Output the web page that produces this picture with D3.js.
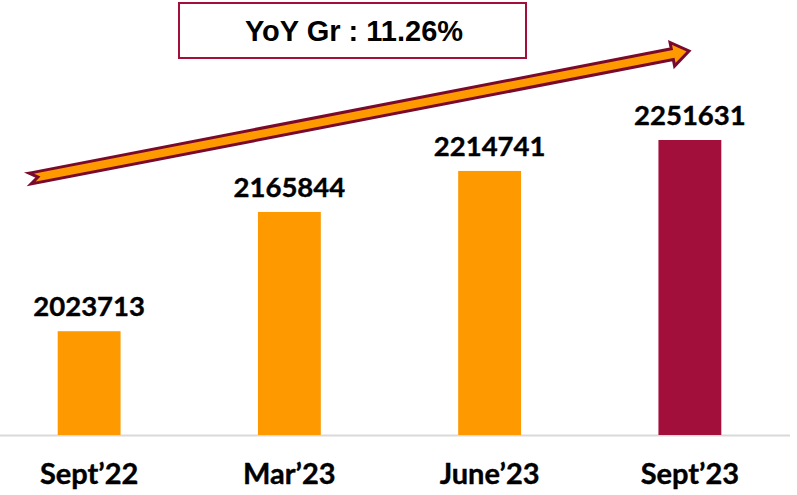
<!DOCTYPE html>
<html>
<head>
<meta charset="utf-8">
<script src="https://cdn.jsdelivr.net/npm/d3@7"></script>
<style>
  body { margin: 0; background: #fff; }
  svg { display: block; }
</style>
</head>
<body>
<div id="chart"></div>
<script>
// data
const categories = ["Sept\u201922", "Mar\u201923", "June\u201923", "Sept\u201923"];
const values = [2023713, 2165844, 2214741, 2251631];
const growthLabel = "YoY Gr : 11.26%";

const W = 797, H = 495;
const baseY = 435;

const svg = d3.select("#chart")
    .append("svg")
    .attr("width", W)
    .attr("height", H);

// scales (axis doesn't start at zero in the original)
const x = d3.scaleBand()
    .domain(categories)
    .range([-11, 790])
    .paddingInner(0.686)
    .paddingOuter(0.343);

const y = d3.scaleLinear()
    .domain([1900000, 2251631])
    .range([baseY, 140]);

// baseline
svg.append("line")
    .attr("x1", 0)
    .attr("x2", 790)
    .attr("y1", baseY + 0.5)
    .attr("y2", baseY + 0.5)
    .attr("stroke", "#d9d9d9")
    .attr("stroke-width", 2);

// bars
svg.selectAll("rect.bar")
    .data(values)
    .enter()
    .append("rect")
    .attr("class", "bar")
    .attr("x", (d, i) => x(categories[i]))
    .attr("y", d => y(d))
    .attr("width", x.bandwidth())
    .attr("height", d => baseY - y(d))
    .attr("fill", (d, i) => i === values.length - 1 ? "#A20F3B" : "#FF9900");

// value labels
svg.selectAll("text.val")
    .data(values)
    .enter()
    .append("text")
    .attr("class", "val")
    .attr("x", (d, i) => x(categories[i]) + x.bandwidth() / 2)
    .attr("y", d => y(d) - 15)
    .attr("text-anchor", "middle")
    .style("font-family", "Lato, 'Open Sans', sans-serif")
    .style("font-weight", "bold")
    .style("font-size", "27.5px")
    .attr("fill", "#000")
    .attr("stroke", "#000")
    .attr("stroke-width", 0.4)
    .text(d => d);

// category labels
svg.selectAll("text.cat")
    .data(categories)
    .enter()
    .append("text")
    .attr("class", "cat")
    .attr("x", d => x(d) + x.bandwidth() / 2)
    .attr("y", 484)
    .attr("text-anchor", "middle")
    .style("font-family", "Lato, 'Open Sans', sans-serif")
    .style("font-weight", "bold")
    .style("font-size", "29px")
    .attr("fill", "#000")
    .attr("stroke", "#000")
    .attr("stroke-width", 0.4)
    .text(d => d);

// growth arrow
const tail = [33, 178], tip = [689, 51];
const len = Math.hypot(tip[0] - tail[0], tip[1] - tail[1]);
const ang = Math.atan2(tip[1] - tail[1], tip[0] - tail[0]) * 180 / Math.PI;
const sw = 5.5, hw = 12, hl = 17, notch = 5;
const arrowPts = [
    [0, -sw], [len - hl, -sw], [len - hl, -hw], [len, 0],
    [len - hl, hw], [len - hl, sw], [-3, sw], [notch, 0], [-3, -sw]
];
svg.append("path")
    .attr("transform", `translate(${tail[0]},${tail[1]}) rotate(${ang})`)
    .attr("d", d3.line()(arrowPts) + "Z")
    .attr("fill", "#FF9900")
    .attr("stroke", "#7A0A2C")
    .attr("stroke-width", 3)
    .attr("stroke-linejoin", "miter");

// growth box
svg.append("rect")
    .attr("x", 179)
    .attr("y", 3)
    .attr("width", 347)
    .attr("height", 55)
    .attr("fill", "#fff")
    .attr("stroke", "#A20F3B")
    .attr("stroke-width", 2);

svg.append("text")
    .attr("x", 354)
    .attr("y", 41)
    .attr("text-anchor", "middle")
    .style("font-family", "'Liberation Sans', Arial, sans-serif")
    .style("font-weight", "bold")
    .style("font-size", "29px")
    .attr("fill", "#000")
    .text(growthLabel);
</script>
</body>
</html>
